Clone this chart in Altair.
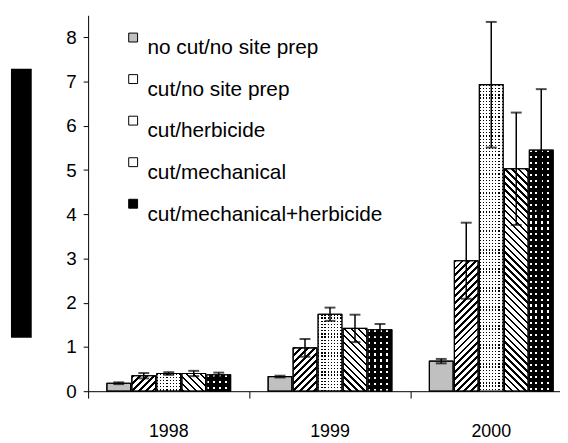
import altair as alt

# ---------------- data ----------------
years = ["1998", "1999", "2000"]
treatments = [
    "no cut/no site prep",
    "cut/no site prep",
    "cut/herbicide",
    "cut/mechanical",
    "cut/mechanical+herbicide",
]
mean_1998 = [0.18, 0.35, 0.40, 0.40, 0.37]
mean_1999 = [0.33, 0.98, 1.74, 1.42, 1.39]
mean_2000 = [0.68, 2.95, 6.93, 5.03, 5.45]
se_1998 = [0.02, 0.06, 0.03, 0.06, 0.05]
se_1999 = [0.02, 0.20, 0.15, 0.31, 0.13]
se_2000 = [0.05, 0.86, 1.42, 1.27, 1.38]
y_ticks = [0, 1, 2, 3, 4, 5, 6, 7, 8]

# ---------------- styling / layout ----------------
FONT = "Liberation Sans"
base_fills = ["#c0c0c0", "#ffffff", "#ffffff", "#ffffff", "#000000"]
Y_MAX = 8.5
PLOT_H = 380
PLOT_W = 477
STEP = 163
X_RANGE = [0, 3 * STEP]
OFF_PI, OFF_PO = 0.05, 0.75
PX = PLOT_H / Y_MAX
BAR_W = STEP / (5 - OFF_PI + 2 * OFF_PO) * (1 - OFF_PI)
CLEAR = "rgba(0,0,0,0)"


def stripe_stops(length, period, thick, on, off):
    stops = []
    k = 0
    while k * period < length:
        a = k * period / length
        b = min((k * period + thick) / length, 1.0)
        c = min((k + 1) * period / length, 1.0)
        stops += [
            {"offset": round(a, 5), "color": on},
            {"offset": round(b, 5), "color": on},
            {"offset": round(b, 5), "color": off},
            {"offset": round(c, 5), "color": off},
        ]
        k += 1
    return stops


def diag(w, h, forward, period=7.0, thick=2.8, color="black"):
    a = w * (w + h) / (w * w + h * h)
    stops = stripe_stops(w + h, period, thick, color, CLEAR)
    if forward:
        return {"gradient": "linear", "x1": 0, "y1": 0, "x2": a, "y2": a * h / w, "stops": stops}
    return {"gradient": "linear", "x1": 0, "y1": 1, "x2": a, "y2": 1 - a * h / w, "stops": stops}


def vert(w, period, thick, color):
    return {"gradient": "linear", "x1": 0, "y1": 0, "x2": 1, "y2": 0,
            "stops": stripe_stops(w, period, thick, color, CLEAR)}


def horiz_mask(h, period, dot, color):
    # transparent on dot rows, colour elsewhere
    return {"gradient": "linear", "x1": 0, "y1": 0, "x2": 0, "y2": 1,
            "stops": stripe_stops(h, period, dot, CLEAR, color)}


means = [mean_1998, mean_1999, mean_2000]
ses = [se_1998, se_1999, se_2000]
rows = []
for i, yr in enumerate(years):
    for j, tr in enumerate(treatments):
        m, s = means[i][j], ses[i][j]
        h = max(m * PX, 1.0)
        if j == 1:
            g1, g2 = diag(BAR_W, h, True), CLEAR
        elif j == 2:
            g1, g2 = vert(BAR_W, 3.2, 1.3, "black"), horiz_mask(h, 3.2, 1.3, "white")
        elif j == 3:
            g1, g2 = diag(BAR_W, h, False, period=7.0, thick=2.4), CLEAR
        elif j == 4:
            g1, g2 = vert(BAR_W, 6.0, 2.2, "white"), horiz_mask(h, 6.0, 2.2, "black")
        else:
            g1, g2 = CLEAR, CLEAR
        rows.append({"year": yr, "treatment": tr, "mean": m,
                     "lo": m - s, "hi": m + s, "g1": g1, "g2": g2})

data = alt.Data(values=rows)

x_enc = alt.X(
    "year:N",
    sort=years,
    scale=alt.Scale(domain=years, range=X_RANGE, paddingInner=0, paddingOuter=0),
    axis=alt.Axis(
        title=None, labelAngle=0, labelFont=FONT, labelFontSize=18, labelColor="black",
        labelPadding=25, tickSize=7, tickColor="black", tickWidth=1,
        domainColor="black", domainWidth=1, bandPosition=0, grid=False,
    ),
)
xo_enc = alt.XOffset(
    "treatment:N", sort=treatments,
    scale=alt.Scale(domain=treatments, paddingInner=OFF_PI, paddingOuter=OFF_PO),
)
y_scale = alt.Scale(domain=[0, Y_MAX], nice=False, zero=True)
y_axis = alt.Axis(
    title=None, values=y_ticks, labelFont=FONT, labelFontSize=19, labelColor="black",
    labelPadding=7, tickSize=5, tickColor="black", domainColor="black", grid=False,
)

base = alt.Chart(data)

bars = base.mark_bar(stroke="black", strokeWidth=1).encode(
    x=x_enc,
    xOffset=xo_enc,
    y=alt.Y("mean:Q", scale=y_scale, axis=y_axis),
    fill=alt.Fill(
        "treatment:N",
        sort=treatments,
        scale=alt.Scale(domain=treatments, range=base_fills),
        legend=alt.Legend(
            title=None, orient="none", legendX=35, legendY=12, padding=0,
            symbolType="square", symbolSize=81, symbolStrokeColor="black",
            symbolStrokeWidth=1, symbolOpacity=1,
            labelFont=FONT, labelFontSize=21, labelColor="black", labelOffset=4,
            labelBaseline="top", rowPadding=10, labelLimit=400,
        ),
    ),
)

over1 = base.mark_bar(strokeWidth=0).encode(
    x=x_enc, xOffset=xo_enc, y=alt.Y("mean:Q", scale=y_scale, axis=y_axis),
    fill=alt.Fill("g1:N", scale=None, legend=None),
)
over2 = base.mark_bar(strokeWidth=0).encode(
    x=x_enc, xOffset=xo_enc, y=alt.Y("mean:Q", scale=y_scale, axis=y_axis),
    fill=alt.Fill("g2:N", scale=None, legend=None),
)
outline = base.mark_bar(fillOpacity=0, stroke="black", strokeWidth=1.2).encode(
    x=x_enc, xOffset=xo_enc, y=alt.Y("mean:Q", scale=y_scale, axis=y_axis),
)

err = base.mark_rule(color="black", strokeWidth=1.5).encode(
    x=x_enc, xOffset=xo_enc,
    y=alt.Y("lo:Q", scale=y_scale, axis=y_axis), y2="hi:Q",
)
cap_hi = base.mark_tick(color="black", size=11, thickness=2).encode(
    x=x_enc, xOffset=xo_enc, y=alt.Y("hi:Q", scale=y_scale, axis=y_axis),
)
cap_lo = base.mark_tick(color="black", size=11, thickness=2).encode(
    x=x_enc, xOffset=xo_enc, y=alt.Y("lo:Q", scale=y_scale, axis=y_axis),
)

# redacted (blacked-out) y-axis title block
block = alt.Chart(alt.Data(values=[{"k": 1}])).mark_rect(color="black").encode(
    x=alt.value(-78), x2=alt.value(-57), y=alt.value(54), y2=alt.value(326),
)

chart = (
    alt.layer(bars, over1, over2, outline, err, cap_hi, cap_lo, block)
    .properties(
        width=PLOT_W, height=PLOT_H,
        autosize=alt.AutoSizeParams(type="none"),
        padding={"left": 81, "top": 5, "right": 0, "bottom": 50},
        background="white",
    )
    .configure_view(strokeWidth=0)
)

chart.save("out.html", embed_options={"renderer": "svg", "actions": False})
